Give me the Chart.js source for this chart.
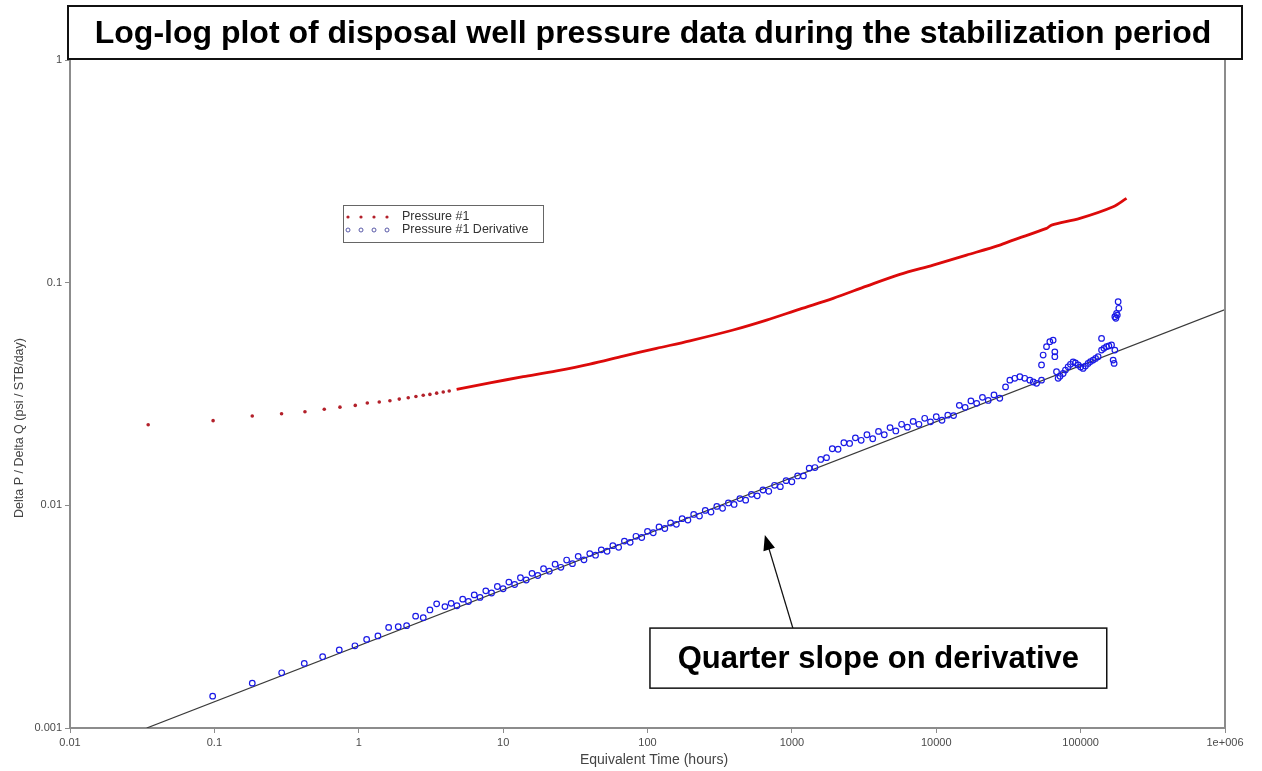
<!DOCTYPE html>
<html>
<head>
<meta charset="utf-8">
<title>Log-log plot of disposal well pressure data</title>
<script src="https://cdn.jsdelivr.net/npm/chart.js@4.4.1/dist/chart.umd.min.js"></script>
<style>
  html, body { margin: 0; padding: 0; background: #fff; }
  canvas { display: block; }
</style>
</head>
<body>
<canvas id="chart" width="1262" height="771"></canvas>
<script>
// values (time in hours, dP/dQ in psi/(STB/day))
const pressureTime = [0.0348, 0.098, 0.183, 0.292, 0.424, 0.577, 0.741, 0.946, 1.146, 1.387, 1.644, 1.908, 2.202, 2.489, 2.797, 3.112, 3.464, 3.848, 4.233,
  4.764, 8.10, 13.78, 23.47, 39.9, 67.9, 115.6, 196.7, 392, 668, 1136, 1932, 3291, 5597, 9517, 16210, 27570, 34080, 58050, 62880, 98740, 168000, 208000];
const pressure = [0.0230, 0.0240, 0.0252, 0.0258, 0.0263, 0.0270, 0.0276, 0.0281, 0.0288, 0.0291, 0.0295, 0.0300, 0.0304, 0.0308, 0.0312, 0.0315, 0.0319, 0.0323, 0.0326,
  0.0332, 0.0355, 0.0378, 0.0402, 0.0431, 0.0468, 0.0507, 0.0548, 0.0613, 0.0679, 0.0761, 0.0850, 0.0965, 0.1090, 0.1200, 0.1330, 0.1475, 0.1553, 0.1753, 0.1814, 0.1944, 0.2192, 0.2390];

const derivTime = [0.0973, 0.183, 0.2925, 0.4194, 0.5623, 0.7328, 0.9412, 1.134, 1.358, 1.611, 1.877, 2.146, 2.477, 2.797, 3.112, 3.464, 3.954,
  4.365, 4.786, 5.248, 5.754, 6.310, 6.918, 7.586, 8.318, 9.120, 10.0, 10.96, 12.02, 13.18, 14.45, 15.85, 17.38, 19.05, 20.89, 22.91, 25.12,
  27.54, 30.20, 33.11, 36.31, 39.81, 43.65, 47.86, 52.48, 57.54, 63.10, 69.18, 75.86, 83.18, 91.20, 100.0, 109.6, 120.2, 131.8, 144.5, 158.5,
  173.8, 190.5, 208.9, 229.1, 251.2, 275.4, 302.0, 331.1, 363.1, 398.1, 436.5, 478.6, 524.8, 575.4, 631.0, 691.8, 758.6, 831.8, 912.0, 1000,
  1096, 1202, 1318, 1445, 1585, 1738, 1905, 2089, 2291, 2512, 2754, 3020, 3311, 3631, 3981, 4365, 4786, 5248, 5754, 6310, 6918, 7586, 8318,
  9120, 10000, 10960, 12020, 13180, 14450, 15850, 17380, 19050, 20890, 22910, 25120, 27540, 30200,
  32350, 35000, 37930, 41000, 44480, 47000, 49530, 53600, 53600, 55000, 58050, 61200, 64500, 66260, 66260, 68080, 69840, 72000, 75670, 78500,
  81900, 85000, 88720, 92000, 96100, 100000, 104000, 108000, 112700, 117000, 122100, 127000, 132200, 139600, 139600, 145000, 151100, 157000,
  163700, 168000, 170600, 172600, 172600, 175400, 177400, 179500, 181900, 183900];
const derivative = [0.00139, 0.00159, 0.00177, 0.00195, 0.00209, 0.00224, 0.00234, 0.00250, 0.00259, 0.00283, 0.00285, 0.00288, 0.00318, 0.00313, 0.00339, 0.00361, 0.00351,
  0.00363, 0.00354, 0.00379, 0.00370, 0.00396, 0.00386, 0.00413, 0.00404, 0.00432, 0.00422, 0.00452, 0.00441, 0.00473, 0.00462, 0.00495, 0.00484,
  0.00519, 0.00506, 0.00544, 0.00527, 0.00568, 0.00547, 0.00590, 0.00569, 0.00607, 0.00597, 0.00631, 0.00622, 0.00659, 0.00648, 0.00691, 0.00682,
  0.00726, 0.00717, 0.00764, 0.00753, 0.00800, 0.00787, 0.00833, 0.00822, 0.00871, 0.00859, 0.00910, 0.00895, 0.00949, 0.00933, 0.00989, 0.00970,
  0.01025, 0.01009, 0.01072, 0.01055, 0.01120, 0.01103, 0.01172, 0.01156, 0.01230, 0.01213, 0.01291, 0.01276, 0.01355, 0.01356, 0.01469, 0.01478,
  0.01607, 0.01637, 0.01795, 0.01786, 0.01910, 0.01896, 0.02009, 0.01959, 0.02075, 0.01991, 0.02148, 0.02075, 0.02234, 0.02158, 0.02312, 0.02244,
  0.02382, 0.02312, 0.02460, 0.02371, 0.02500, 0.02410, 0.02541, 0.02529, 0.02812, 0.02754, 0.02944, 0.02871, 0.03055, 0.02958, 0.03133, 0.03027, 0.03404,
  0.0365, 0.0372, 0.0378, 0.0372, 0.0365, 0.0358, 0.0353, 0.0365, 0.0427, 0.0473, 0.0516, 0.0543, 0.0552, 0.0489, 0.0465, 0.0398, 0.0372, 0.0380, 0.0391, 0.0405,
  0.0419, 0.0430, 0.0441, 0.0436, 0.0427, 0.0418, 0.0412, 0.0422, 0.0434, 0.0442, 0.0449, 0.0457, 0.0465, 0.0498, 0.0562, 0.0507, 0.0516, 0.0520,
  0.0525, 0.0449, 0.0434, 0.0498, 0.0703, 0.0692, 0.0728, 0.0715, 0.0821, 0.0767];

// quarter slope reference line (two end points)
const slopeTime = [0.034, 1000000];
const slopeValue = [0.001, 0.0757];

const xTicks = [0.01, 0.1, 1, 10, 100, 1000, 10000, 100000, 1000000];
const xTickLabels = ['0.01', '0.1', '1', '10', '100', '1000', '10000', '100000', '1e+006'];
const yTicks = [0.001, 0.01, 0.1, 1];
const yTickLabels = ['0.001', '0.01', '0.1', '1'];

const seriesNames = ['Pressure #1', 'Pressure #1 Derivative'];
const chartTitle = 'Log-log plot of disposal well pressure data during the stabilization period';
const noteText = 'Quarter slope on derivative';

function toPoints(xs, ys) {
  const n = Math.min(xs.length, ys.length);
  const out = [];
  for (let i = 0; i < n; i++) out.push({ x: xs[i], y: ys[i] });
  return out;
}

const RED = '#dc0a0a';
const BLUE = '#1a1ae6';
const AXIS = '#8c8c8c';
const FONT = '"Liberation Sans", Arial, sans-serif';

// draw title box, annotation, legend and axis titles
const overlay = {
  id: 'overlay',
  afterDraw(chart) {
    const { ctx, chartArea: a, scales: { x, y } } = chart;
    ctx.save();

    // right frame line
    ctx.strokeStyle = AXIS;
    ctx.lineWidth = 2;
    ctx.beginPath();
    ctx.moveTo(a.right, a.top);
    ctx.lineTo(a.right, a.bottom);
    ctx.stroke();

    // title box
    ctx.fillStyle = '#fff';
    ctx.fillRect(68, 6, 1174, 53);
    ctx.strokeStyle = '#111';
    ctx.lineWidth = 2;
    ctx.strokeRect(68, 6, 1174, 53);
    ctx.fillStyle = '#000';
    ctx.font = 'bold 32px ' + FONT;
    ctx.textAlign = 'center';
    ctx.textBaseline = 'middle';
    ctx.fillText(chartTitle, 653, 34);

    // axis titles
    ctx.fillStyle = '#444';
    ctx.font = '14px ' + FONT;
    ctx.fillText('Equivalent Time (hours)', 654, 760);
    ctx.save();
    ctx.translate(20, 428);
    ctx.rotate(-Math.PI / 2);
    ctx.font = '12.5px ' + FONT;
    ctx.fillText('Delta P / Delta Q (psi / STB/day)', 0, 0);
    ctx.restore();

    // arrow to the derivative
    const tailX = x.getPixelForValue(1016), tailY = y.getPixelForValue(0.00281);
    const tipX = x.getPixelForValue(650), tipY = y.getPixelForValue(0.00735);
    const ang = Math.atan2(tipY - tailY, tipX - tailX);
    ctx.strokeStyle = '#111';
    ctx.lineWidth = 1.3;
    ctx.beginPath();
    ctx.moveTo(tailX, tailY);
    ctx.lineTo(tipX - 10 * Math.cos(ang), tipY - 10 * Math.sin(ang));
    ctx.stroke();
    ctx.fillStyle = '#000';
    ctx.beginPath();
    ctx.moveTo(tipX, tipY);
    ctx.lineTo(tipX - 15 * Math.cos(ang) + 6 * Math.sin(ang), tipY - 15 * Math.sin(ang) - 6 * Math.cos(ang));
    ctx.lineTo(tipX - 15 * Math.cos(ang) - 6 * Math.sin(ang), tipY - 15 * Math.sin(ang) + 6 * Math.cos(ang));
    ctx.closePath();
    ctx.fill();

    // note box
    const bx0 = x.getPixelForValue(104), bx1 = x.getPixelForValue(151700);
    const by0 = y.getPixelForValue(0.00281), by1 = y.getPixelForValue(0.00151);
    ctx.fillStyle = '#fff';
    ctx.fillRect(bx0, by0, bx1 - bx0, by1 - by0);
    ctx.strokeStyle = '#111';
    ctx.lineWidth = 1.5;
    ctx.strokeRect(bx0, by0, bx1 - bx0, by1 - by0);
    ctx.fillStyle = '#000';
    ctx.font = 'bold 31px ' + FONT;
    ctx.fillText(noteText, (bx0 + bx1) / 2, (by0 + by1) / 2 + 1);

    // legend
    const lx = a.left + 273, ly = a.top + 145;
    ctx.fillStyle = '#fff';
    ctx.fillRect(lx, ly, 200, 37);
    ctx.strokeStyle = '#666';
    ctx.lineWidth = 1;
    ctx.strokeRect(lx + 0.5, ly + 0.5, 200, 37);
    ctx.font = '12.5px ' + FONT;
    ctx.textAlign = 'left';
    for (let r = 0; r < 2; r++) {
      const cy = ly + 12 + r * 13;
      for (let k = 0; k < 4; k++) {
        const cx = lx + 5 + k * 13;
        ctx.beginPath();
        if (r === 0) {
          ctx.fillStyle = '#b3202a';
          ctx.arc(cx, cy, 1.6, 0, Math.PI * 2);
          ctx.fill();
        } else {
          ctx.strokeStyle = '#5a5aa8';
          ctx.lineWidth = 1;
          ctx.arc(cx, cy, 2, 0, Math.PI * 2);
          ctx.stroke();
        }
      }
      ctx.fillStyle = '#333';
      ctx.fillText(seriesNames[r], lx + 59, cy);
    }
    ctx.restore();
  }
};

const tickFont = { family: FONT, size: 11 };

new Chart(document.getElementById('chart'), {
  type: 'scatter',
  data: {
    datasets: [
      {
        label: seriesNames[0],
        data: toPoints(pressureTime, pressure),
        showLine: true,
        tension: 0.3,
        borderWidth: 2.8,
        borderColor: RED,
        segment: {
          borderColor: c => (c.p0.parsed.x < 4.5 ? 'transparent' : RED)
        },
        pointRadius: c => (c.parsed && c.parsed.x < 4.5 ? 1.8 : 0),
        pointBackgroundColor: '#b3202a',
        pointBorderWidth: 0
      },
      {
        label: seriesNames[1],
        data: toPoints(derivTime, derivative),
        showLine: false,
        pointRadius: 2.8,
        pointBorderWidth: 1.2,
        pointBorderColor: BLUE,
        pointBackgroundColor: 'rgba(0,0,0,0)'
      },
      {
        label: 'Quarter slope',
        data: toPoints(slopeTime, slopeValue),
        showLine: true,
        borderColor: '#3a3a3a',
        borderWidth: 1.2,
        pointRadius: 0
      }
    ]
  },
  options: {
    responsive: false,
    animation: false,
    devicePixelRatio: 1,
    layout: { padding: { top: 60, right: 37, left: 0, bottom: 0 } },
    plugins: { legend: { display: false }, tooltip: { enabled: false } },
    scales: {
      x: {
        type: 'logarithmic',
        min: 0.01,
        max: 1000000,
        afterBuildTicks: s => { s.ticks = xTicks.map(v => ({ value: v })); },
        afterFit: s => { s.height = 43; },
        ticks: {
          callback: (v, i) => xTickLabels[i],
          autoSkip: false,
          maxRotation: 0,
          padding: 3,
          color: '#4a4a4a',
          font: tickFont
        },
        grid: { drawOnChartArea: false, drawTicks: true, tickLength: 5, tickColor: AXIS },
        border: { color: AXIS, width: 2 }
      },
      y: {
        type: 'logarithmic',
        min: 0.001,
        max: 1,
        afterBuildTicks: s => { s.ticks = yTicks.map(v => ({ value: v })); },
        afterFit: s => { s.width = 70; },
        ticks: {
          callback: (v, i) => yTickLabels[i],
          autoSkip: false,
          padding: 3,
          color: '#4a4a4a',
          font: tickFont
        },
        grid: { drawOnChartArea: false, drawTicks: true, tickLength: 5, tickColor: AXIS },
        border: { color: AXIS, width: 2 }
      }
    }
  },
  plugins: [overlay]
});
</script>
</body>
</html>
